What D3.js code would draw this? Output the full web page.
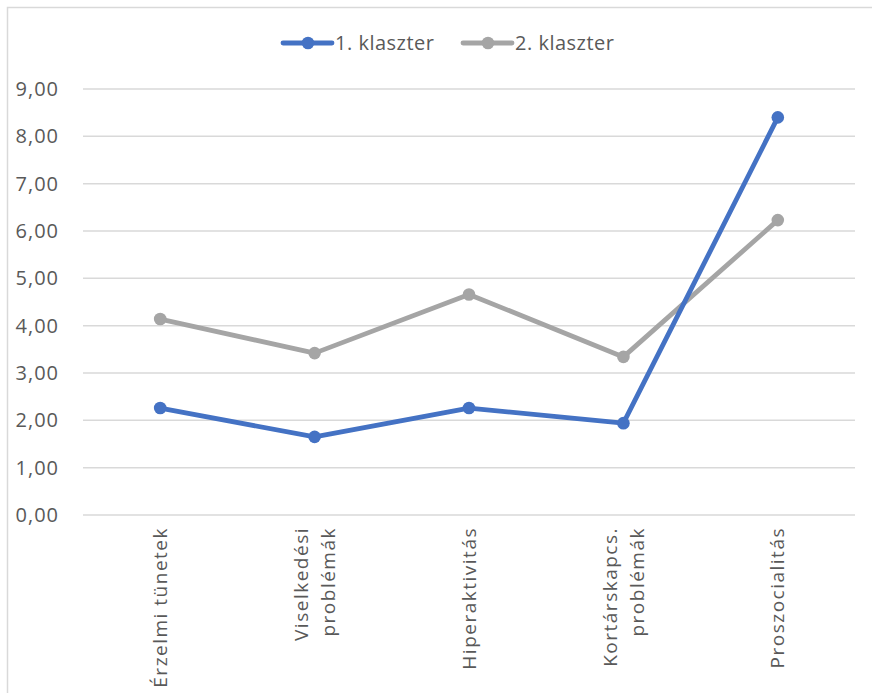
<!DOCTYPE html>
<html>
<head>
<meta charset="utf-8">
<script src="https://cdn.jsdelivr.net/npm/d3@7"></script>
<style>
  body { margin: 0; background: #fff; }
  text { font-family: "Open Sans", "Noto Sans", sans-serif; fill: #595959; }
</style>
</head>
<body>
<script>
var categories = [["Érzelmi tünetek"], ["Viselkedési", "problémák"], ["Hiperaktivitás"],
                  ["Kortárskapcs.", "problémák"], ["Proszocialitás"]];
var seriesNames = ["1. klaszter", "2. klaszter"];
var cluster1 = [2.26, 1.65, 2.26, 1.94, 8.40];
var cluster2 = [4.14, 3.42, 4.66, 3.34, 6.23];
var yTicks = [0, 1, 2, 3, 4, 5, 6, 7, 8, 9];
var colors = ["#4472C4", "#A5A5A5"];

var W = 872, H = 693;
var margin = {top: 89, right: 17, bottom: 178, left: 83},
    width = W - margin.left - margin.right,
    height = H - margin.top - margin.bottom;

var svg = d3.select("body").append("svg")
    .attr("width", W)
    .attr("height", H);

// outer chart border (only top and left visible in the crop)
svg.append("path")
    .attr("d", "M7.5," + H + "V7.5H" + W)
    .attr("fill", "none")
    .attr("stroke", "#D9D9D9")
    .attr("stroke-width", 1.5);

var g = svg.append("g")
    .attr("transform", "translate(" + margin.left + "," + margin.top + ")");

var x = d3.scaleBand().domain(d3.range(categories.length)).range([0, width]);
var y = d3.scaleLinear().domain([0, 9]).range([height, 0]);

// gridlines
g.selectAll(".grid").data(yTicks).enter().append("line")
    .attr("x1", 0).attr("x2", width)
    .attr("y1", function(d) { return y(d); })
    .attr("y2", function(d) { return y(d); })
    .attr("stroke", "#D9D9D9")
    .attr("stroke-width", 1.5);

// y labels
var yAxis = g.append("g")
    .call(d3.axisLeft(y).tickValues(yTicks).tickSize(0).tickPadding(24)
      .tickFormat(function(d) { return d3.format(".2f")(d).replace(".", ","); }));
yAxis.select(".domain").remove();
yAxis.selectAll("text").style("font-size", "20px").style("letter-spacing", "1px")
    .attr("fill", "#595959")
    .style("font-family", "'Open Sans', 'Noto Sans', sans-serif");

// x labels (rotated)
var xl = g.selectAll(".xlab").data(categories).enter().append("g")
    .attr("transform", function(d, i) {
      return "translate(" + (x(i) + x.bandwidth() / 2) + "," + (height + 12) + ") rotate(-90)";
    });
xl.each(function(lines) {
  var n = lines.length;
  d3.select(this).selectAll("text").data(lines).enter().append("text")
    .attr("text-anchor", "end")
    .attr("x", 0)
    .attr("y", function(d, k) { return (k - (n - 1) / 2) * 27; })
    .attr("dy", "0.35em")
    .style("font-size", "19px")
    .style("letter-spacing", "1.5px")
    .text(function(d) { return d; });
});

// lines
var line = d3.line()
    .x(function(d, i) { return x(i) + x.bandwidth() / 2; })
    .y(function(d) { return y(d); });

[cluster2, cluster1].forEach(function(data, k) {
  var c = colors[1 - k];
  g.append("path")
      .attr("d", line(data))
      .attr("fill", "none")
      .attr("stroke", c)
      .attr("stroke-width", 4.8)
      .attr("stroke-linejoin", "round");
  g.selectAll(null).data(data).enter().append("circle")
      .attr("cx", function(d, i) { return x(i) + x.bandwidth() / 2; })
      .attr("cy", function(d) { return y(d); })
      .attr("r", 6.3)
      .attr("fill", c);
});

// legend
var legendX = [283, 463];
seriesNames.forEach(function(name, i) {
  var lg = svg.append("g").attr("transform", "translate(" + legendX[i] + ",43)");
  lg.append("line").attr("x1", 0).attr("x2", 49).attr("y1", 0).attr("y2", 0)
      .attr("stroke", colors[i]).attr("stroke-width", 4.8).attr("stroke-linecap", "round");
  lg.append("circle").attr("cx", 25).attr("cy", 0).attr("r", 6.3).attr("fill", colors[i]);
  lg.append("text").attr("x", 52).attr("dy", "0.35em")
      .style("font-size", "20px").style("letter-spacing", "0.5px").text(name);
});
</script>
</body>
</html>
